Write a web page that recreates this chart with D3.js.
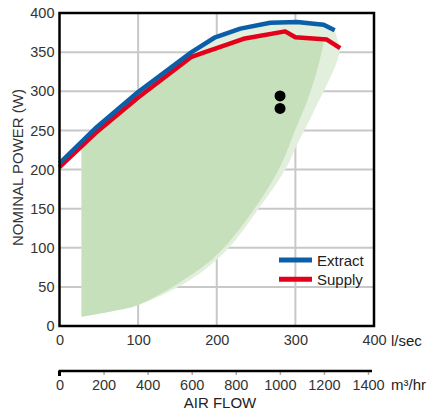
<!DOCTYPE html>
<html><head><meta charset="utf-8">
<script src="https://cdn.jsdelivr.net/npm/d3@7"></script>
<style>
html,body{margin:0;padding:0;background:#fff;}
svg{display:block;font-family:"Liberation Sans",Arial,Helvetica,sans-serif;}
</style></head>
<body>
<svg id="chart" width="430" height="412"></svg>
<script>
// ---- data ----
const flowTicks = [0, 100, 200, 300, 400];            // l/sec
const powerTicks = [0, 50, 100, 150, 200, 250, 300, 350, 400];
const m3Ticks = [0, 200, 400, 600, 800, 1000, 1200, 1400]; // m3/hr

const extractFlow  = [0, 45, 100, 168, 198, 230, 268, 302, 336, 350];
const extractPower = [208, 252, 299, 350, 369, 380, 387.5, 388.5, 385, 378];

const supplyFlow  = [0, 45, 100, 168, 185, 200, 234, 287, 300, 340, 357];
const supplyPower = [203, 246, 292, 344, 350, 355, 367, 376.5, 369, 366, 355];

const pointFlow  = [280.5, 280.5];
const pointPower = [294, 278];

// operating envelope (dark): lower/right edge, then top edge
const darkEdgeFlow  = [28, 64, 100, 157.5, 200, 246.6, 280.5, 299.6, 314.5, 327, 335.4];
const darkEdgePower = [11.9, 18.3, 26.8, 58.7, 90.6, 148, 203.3, 250.2, 286.3, 324.6, 358.6];
const darkTopFlow   = [335, 300, 287, 234, 200, 185, 168, 100, 45, 28];
const darkTopPower  = [366, 369, 376.5, 367, 355, 350, 344, 292, 246, 229];

// tolerance band (light)
const lightEdgeFlow  = [28, 64, 100, 166, 212.7, 255, 289, 301.8, 323, 352.7, 356.9];
const lightEdgePower = [11.9, 18.3, 26.8, 58.7, 97, 152.3, 203.3, 231, 273.5, 337, 354.6];
const lightTopFlow   = [350, 336, 302, 268, 230, 198, 168, 100, 45, 28];
const lightTopPower  = [378, 385, 388.5, 387.5, 380, 369, 350, 299, 252, 236];

const seriesNames = ["Extract", "Supply"];

// ---- drawing ----
const svg = d3.select("#chart");
const x = d3.scaleLinear().domain([0, 400]).range([59.5, 374]);
const y = d3.scaleLinear().domain([0, 400]).range([326, 13]);
const xm = d3.scaleLinear().domain([0, 1400]).range([59.5, 368]);

const blue = "#0b5ea8", red = "#e2001a";
const dark = "#c6e0bc", light = "#e2efdc";
const textCol = "#333";
const fontFam = "Liberation Sans, Arial, sans-serif";

const zip = (a, b) => a.map((v, i) => [v, b[i]]);
const line = d3.line().x(d => x(d[0])).y(d => y(d[1]));
const smooth = d3.line().x(d => x(d[0])).y(d => y(d[1])).curve(d3.curveCatmullRom.alpha(0.5));
const areaPath = (ef, ep, tf, tp) =>
  smooth(zip(ef, ep)) + line(zip(tf, tp)).replace(/^M/, "L") + "Z";

// gridlines
svg.append("g").selectAll("line").data(flowTicks.slice(1, -1)).join("line")
  .attr("x1", d => x(d)).attr("x2", d => x(d)).attr("y1", y(400)).attr("y2", y(0))
  .attr("stroke", "#c8c8c8").attr("stroke-width", 2);
svg.append("g").selectAll("line").data(powerTicks.slice(1, -1)).join("line")
  .attr("y1", d => y(d)).attr("y2", d => y(d)).attr("x1", x(0)).attr("x2", x(400))
  .attr("stroke", "#c8c8c8").attr("stroke-width", 2);

// areas
svg.append("path").attr("d", areaPath(lightEdgeFlow, lightEdgePower, lightTopFlow, lightTopPower)).attr("fill", light);
svg.append("path").attr("d", areaPath(darkEdgeFlow, darkEdgePower, darkTopFlow, darkTopPower)).attr("fill", dark);

// curves
svg.append("path").attr("d", line(zip(supplyFlow, supplyPower)))
  .attr("fill", "none").attr("stroke", red).attr("stroke-width", 4.5).attr("stroke-linejoin", "round");
svg.append("path").attr("d", line(zip(extractFlow, extractPower)))
  .attr("fill", "none").attr("stroke", blue).attr("stroke-width", 4.5).attr("stroke-linejoin", "round");

// points
svg.append("g").selectAll("circle").data(zip(pointFlow, pointPower)).join("circle")
  .attr("cx", d => x(d[0])).attr("cy", d => y(d[1])).attr("r", 5.5).attr("fill", "#000");

// frame
svg.append("rect").attr("x", x(0)).attr("y", y(400))
  .attr("width", x(400) - x(0)).attr("height", y(0) - y(400))
  .attr("fill", "none").attr("stroke", "#000").attr("stroke-width", 2.5);

// y axis labels
const yAxis = d3.axisLeft(y).tickValues(powerTicks).tickSize(0).tickPadding(5);
const gy = svg.append("g").attr("transform", `translate(${x(0)},0)`).call(yAxis);
gy.select(".domain").remove();
gy.selectAll("text").attr("font-size", 14.5).attr("fill", textCol).attr("font-family", fontFam);

// x axis labels (l/sec)
const xAxis = d3.axisBottom(x).tickValues(flowTicks).tickSize(0).tickPadding(0);
const gx = svg.append("g").attr("transform", `translate(0,${y(0)})`).call(xAxis);
gx.select(".domain").remove();
gx.selectAll("text").attr("dy", null).attr("y", 19).attr("font-size", 14.5).attr("fill", textCol).attr("font-family", fontFam);

// m3/hr axis
const mAxis = d3.axisBottom(xm).tickValues(m3Ticks).tickFormat(d3.format("d")).tickSize(4).tickPadding(0);
const gm = svg.append("g").attr("transform", "translate(0,371)").call(mAxis);
gm.select(".domain").remove();
gm.selectAll(".tick line").attr("stroke", "#aaa").attr("stroke-width", 1.5).attr("y1", 1);
gm.selectAll("text").attr("dy", null).attr("y", 19).attr("font-size", 14.5).attr("fill", textCol).attr("font-family", fontFam);
gm.append("line").attr("x1", xm(0) - 1).attr("x2", 372).attr("y1", 0).attr("y2", 0)
  .attr("stroke", "#000").attr("stroke-width", 2.5);
gm.append("line").attr("x1", xm(0)).attr("x2", xm(0)).attr("y1", 0).attr("y2", 5)
  .attr("stroke", "#000").attr("stroke-width", 3);

// unit labels
svg.append("text").attr("x", 391).attr("y", 345.5).attr("font-size", 15).attr("fill", "#222").text("l/sec");
svg.append("text").attr("x", 391).attr("y", 390).attr("font-size", 15).attr("fill", "#222").text("m³/hr");
svg.append("text").attr("x", 220).attr("y", 407.5).attr("text-anchor", "middle").attr("font-size", 15).attr("fill", "#222").text("AIR FLOW");
svg.append("text").attr("transform", "translate(23,167.5) rotate(-90)").attr("text-anchor", "middle")
  .attr("font-size", 15).attr("fill", textCol).text("NOMINAL POWER (W)");

// legend
const legColors = [blue, red];
const leg = svg.append("g").selectAll("g").data(seriesNames).join("g")
  .attr("transform", (d, i) => `translate(279,${260 + i * 19.3})`);
leg.append("line").attr("x1", 0).attr("x2", 33).attr("y1", 0).attr("y2", 0)
  .attr("stroke", (d, i) => legColors[i]).attr("stroke-width", 5);
leg.append("text").attr("x", 38).attr("y", 5.5).attr("font-size", 15).attr("fill", "#222").text(d => d);
</script>
</body></html>
